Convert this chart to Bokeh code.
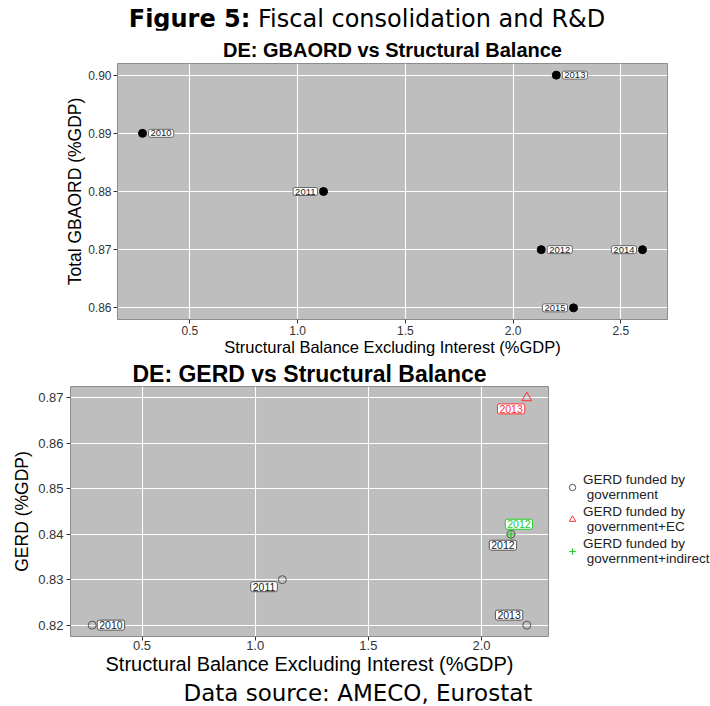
from bokeh.plotting import figure
from bokeh.models import (ColumnDataSource, Div, Title, Legend, LegendItem,
                          FixedTicker, Range1d, NumeralTickFormatter)
from bokeh.embed import file_html
from bokeh.resources import INLINE
from bokeh.core.properties import value

# ---------------- data ----------------
top_years = ["2010", "2011", "2012", "2013", "2014", "2015"]
top_sb = [0.28, 1.12, 2.13, 2.20, 2.60, 2.28]
top_gbaord = [0.89, 0.88, 0.87, 0.90, 0.87, 0.86]

gov_years = ["2010", "2011", "2012", "2013"]
gov_sb = [0.28, 1.12, 2.13, 2.20]
gov_gerd = [0.82, 0.83, 0.84, 0.82]

ec_years = ["2013"]
ec_sb = [2.20]
ec_gerd = [0.87]

ind_years = ["2012"]
ind_sb = [2.13]
ind_gerd = [0.84]

top_xticks = [0.5, 1.0, 1.5, 2.0, 2.5]
top_yticks = [0.86, 0.87, 0.88, 0.89, 0.90]
bot_xticks = [0.5, 1.0, 1.5, 2.0]
bot_yticks = [0.82, 0.83, 0.84, 0.85, 0.86, 0.87]

legend_labels = ["GERD funded by\n government",
                 "GERD funded by\n government+EC",
                 "GERD funded by\n government+indirect"]

# label placement (layout only, screen px)
top_dx = [6, -6, 6, 6, -6, -6]
top_align = ["left", "right", "left", "left", "right", "right"]
gov_dx = [5, -5, -8, -4]
gov_dy = [0, 7, 11, -10]
gov_align = ["left", "right", "center", "right"]
ec_dx = [-2]
ec_dy = [11]
ec_align = ["right"]
ind_dx = [8]
ind_dy = [-10]
ind_align = ["center"]

FONT = "Liberation Sans"
PANEL = "#BEBEBE"


def padded(vals, frac=0.05):
    lo, hi = min(vals), max(vals)
    s = hi - lo
    return lo - frac * s, hi + frac * s


def style(p, xticks, yticks, xfmt, yfmt, tick_fs, xlab_fs, ylab_fs, xstand, ystand, xl_st, yl_st):
    p.background_fill_color = PANEL
    p.border_fill_color = "white"
    p.outline_line_color = "#8C8C8C"
    p.outline_line_width = 1
    p.xgrid.grid_line_color = "white"
    p.ygrid.grid_line_color = "white"
    p.xgrid.grid_line_width = 1.1
    p.ygrid.grid_line_width = 1.1
    p.xaxis.ticker = FixedTicker(ticks=xticks)
    p.yaxis.ticker = FixedTicker(ticks=yticks)
    p.xaxis.formatter = NumeralTickFormatter(format=xfmt)
    p.yaxis.formatter = NumeralTickFormatter(format=yfmt)
    for ax in (p.xaxis, p.yaxis):
        ax.axis_line_color = None
        ax.major_tick_line_color = "#333333"
        ax.major_tick_in = 0
        ax.major_tick_out = 4
        ax.minor_tick_line_color = None
        ax.major_label_text_font = FONT
        ax.major_label_text_font_size = tick_fs
        ax.major_label_text_color = "#333333"
        ax.axis_label_text_font = FONT
        ax.axis_label_text_font_style = "normal"
        ax.axis_label_text_color = "black"
    p.xaxis.axis_label_text_font_size = xlab_fs
    p.yaxis.axis_label_text_font_size = ylab_fs
    p.xaxis.major_label_standoff = xstand
    p.yaxis.major_label_standoff = ystand
    p.xaxis.axis_label_standoff = xl_st
    p.yaxis.axis_label_standoff = yl_st
    p.title.align = "center"
    p.title.text_font = FONT
    p.title.text_font_style = "bold"
    p.title.text_color = "black"


# ---------------- header ----------------
header = Div(
    text='<div style="width:710px;box-sizing:border-box;padding-left:24px;padding-top:7px;'
         'text-align:center;font-family:\'DejaVu Sans\';font-size:24px;line-height:24px;color:black;">'
         '<b>Figure 5:</b> Fiscal consolidation and R&amp;D</div>',
    width=710, height=30, margin=(0, 0, 0, 0))

# ---------------- top chart ----------------
p1 = figure(frame_width=550, frame_height=256, x_range=Range1d(*padded(top_sb)),
            y_range=Range1d(*padded(top_gbaord)),
            title="DE: GBAORD vs Structural Balance",
            output_backend="svg", toolbar_location=None,
            min_border_left=117, min_border_right=43,
            min_border_top=33, min_border_bottom=38)
style(p1, top_xticks, top_yticks, "0.0", "0.00", "12px", "16.5px", "17.5px", 2, 2, 0, 0)
p1.title.text_font_size = "20px"
p1.title.standoff = 6
p1.xaxis.axis_label = "Structural Balance Excluding Interest (%GDP)"
p1.yaxis.axis_label = "Total GBAORD (%GDP)"

src1 = ColumnDataSource(dict(x=top_sb, y=top_gbaord, t=top_years, dx=top_dx, al=top_align))
p1.scatter(x="x", y="y", source=src1, size=8, color="black")
p1.text(x="x", y="y", text="t", source=src1, x_offset="dx", text_align="al",
        text_baseline="middle", text_font=value(FONT), text_font_size="9.5px",
        text_color="#222222", background_fill_color="white",
        border_line_color="#666666", border_line_width=1, padding=(2, 1), border_radius=2)

# ---------------- bottom chart ----------------
all_x = gov_sb + ec_sb + ind_sb
all_y = gov_gerd + ec_gerd + ind_gerd
p2 = figure(frame_width=478, frame_height=250, x_range=Range1d(*padded(all_x)),
            y_range=Range1d(*padded(all_y)),
            title="DE: GERD vs Structural Balance",
            output_backend="svg", toolbar_location=None,
            min_border_left=70, min_border_right=162,
            min_border_top=26, min_border_bottom=66)
style(p2, bot_xticks, bot_yticks, "0.0", "0.00", "13px", "20px", "17.5px", 0, 3, 0, 3)
p2.title.text_font_size = "23px"
p2.title.standoff = 0
p2.xaxis.axis_label = "Structural Balance Excluding Interest (%GDP)"
p2.yaxis.axis_label = "GERD (%GDP)"

src_gov = ColumnDataSource(dict(x=gov_sb, y=gov_gerd, t=gov_years, dx=gov_dx, dy=gov_dy, al=gov_align))
src_ec = ColumnDataSource(dict(x=ec_sb, y=ec_gerd, t=ec_years, dx=ec_dx, dy=ec_dy, al=ec_align))
src_ind = ColumnDataSource(dict(x=ind_sb, y=ind_gerd, t=ind_years, dx=ind_dx, dy=ind_dy, al=ind_align))

r_gov = p2.scatter(x="x", y="y", source=src_gov, marker="circle", size=8,
                   fill_color=None, line_color="#555555", line_width=1)
r_ec = p2.scatter(x="x", y="y", source=src_ec, marker="triangle", size=10,
                  fill_color=None, line_color="#FF3030", line_width=1)
r_ind = p2.scatter(x="x", y="y", source=src_ind, marker="cross", size=10,
                   line_color="#22CC22", line_width=1.2)

for src, tc, bc in ((src_gov, "#222222", "#555555"),
                    (src_ec, "#FF3030", "#FF3030"),
                    (src_ind, "#22CC22", "#22CC22")):
    p2.text(x="x", y="y", text="t", source=src, x_offset="dx", y_offset="dy",
            text_align="al", text_baseline="middle", text_font=value(FONT),
            text_font_size="10.5px", text_color=tc, background_fill_color="white",
            border_line_color=bc, border_line_width=1, padding=(2, 1), border_radius=2)

legend = Legend(items=[LegendItem(label=legend_labels[0], renderers=[r_gov]),
                       LegendItem(label=legend_labels[1], renderers=[r_ec]),
                       LegendItem(label=legend_labels[2], renderers=[r_ind])],
                location=(8, 62), margin=0, padding=8, glyph_width=16,
                glyph_height=18, label_standoff=3, spacing=2,
                background_fill_alpha=0, border_line_alpha=0,
                label_text_font=FONT, label_text_font_size="13.5px",
                label_text_color="#222222")
p2.add_layout(legend, "right")

p2.add_layout(Title(text="Data source: AMECO, Eurostat", align="left", offset=113,
                    text_font="DejaVu Sans", text_font_size="23px",
                    text_font_style="normal", text_color="black", standoff=0), "below")

open("out.html", "w").write(file_html([header, p1, p2], INLINE))
